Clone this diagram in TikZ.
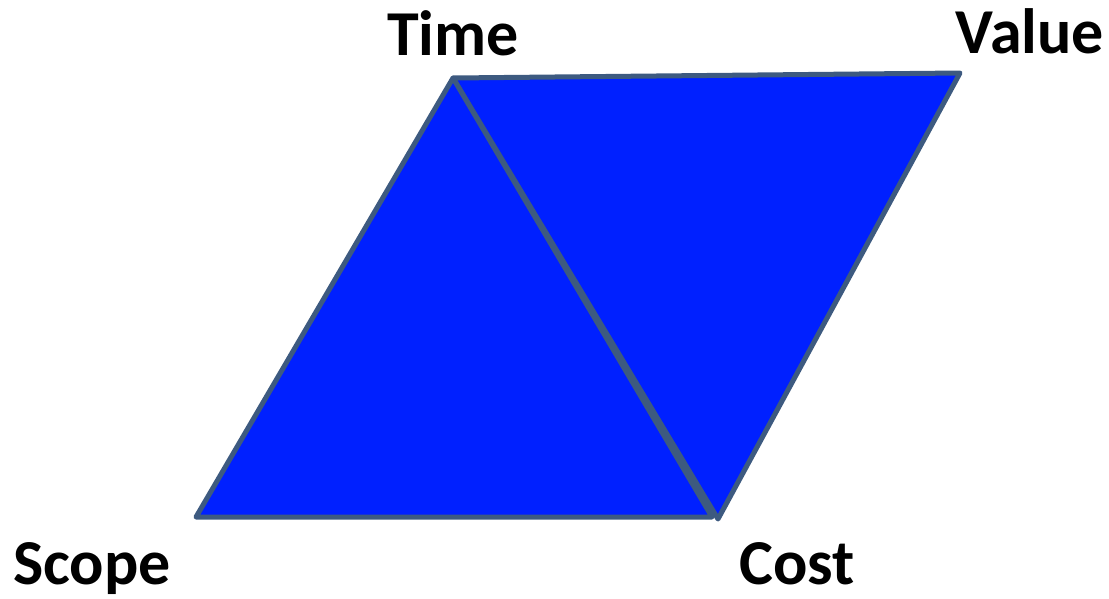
\documentclass[tikz,border=0pt]{standalone}
\usepackage{fontspec}
\setmainfont{Carlito}
\definecolor{fillblue}{HTML}{0020FF}
\definecolor{edgegray}{HTML}{3D5A80}
\tikzset{
  tri/.style={fill=fillblue, draw=edgegray, line width=5pt, line join=round},
  lbl/.style={font=\fontsize{64}{72}\selectfont\bfseries, inner sep=0pt, anchor=base}
}
\begin{document}
\begin{tikzpicture}[x=1pt,y=-1pt]
\useasboundingbox (0,0) rectangle (1109,598);
\coordinate (T) at (453,78);
\coordinate (V) at (960,73);
\coordinate (S) at (196,517);
\coordinate (C1) at (712,517);
\coordinate (C2) at (718,519);
\draw[tri] (T) -- (V) -- (C2) -- cycle;
\draw[tri] (S) -- (T) -- (C1) -- cycle;
\node[lbl] (time) at (453,55) {Time};
\node[lbl] (value) at (1030,53) {Value};
\node[lbl] (scope) at (92,584) {Scope};
\node[lbl] (cost) at (797,584) {Cost};
\end{tikzpicture}
\end{document}
